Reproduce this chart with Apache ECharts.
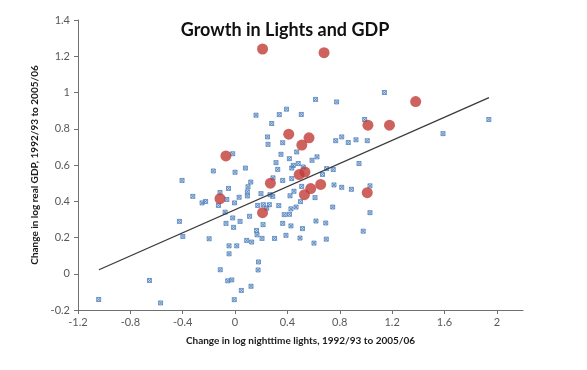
<!DOCTYPE html>
<html>
<head>
<meta charset="utf-8">
<script src="https://cdn.jsdelivr.net/npm/echarts@6/dist/echarts.min.js"></script>
<style>html,body{margin:0;padding:0;background:#fff}#c{width:587px;height:370px}</style>
</head>
<body>
<div id="c"></div>
<script>
// ---- data ----
const titleText = 'Growth in Lights and GDP';
const xAxisName = 'Change in log nighttime lights, 1992/93 to 2005/06';
const yAxisName = 'Change in log real GDP, 1992/93 to 2005/06';
const xTicks = [-1.2, -0.8, -0.4, 0, 0.4, 0.8, 1.2, 1.6, 2];
const yTicks = [-0.2, 0, 0.2, 0.4, 0.6, 0.8, 1, 1.2, 1.4];

// other countries (blue x markers)
const blueX = [0.16,0.338,0.393,0.28,0.248,0.252,0.364,0.351,0.313,0.415,0.471,-0.018,0.615,0.776,0.506,0.99,1.141,1.939,1.589,0.769,0.815,0.865,0.924,1.01,0.588,0.626,0.947,0.445,0.483,0.521,0.079,0.0,-0.166,-0.405,0.70,0.75,0.668,0.326,0.433,0.364,0.433,0.756,0.815,0.889,1.031,0.509,0.12,0.099,0.094,0.094,-0.05,-0.115,0.29,0.198,0.267,0.288,0.42,0.45,0.611,-0.323,-0.252,-0.225,0.031,-0.063,0.50,-0.004,-0.127,0.173,0.216,0.262,0.242,0.334,0.466,0.427,0.746,1.031,0.376,0.416,-0.076,-0.018,0.111,0.038,-0.069,-0.011,-0.425,0.214,0.364,0.427,0.515,0.618,0.693,0.979,0.164,0.168,-0.399,-0.198,0.206,0.302,0.389,0.496,0.697,0.603,0.089,0.127,-0.046,0.013,-0.046,0.179,0.176,-0.113,-0.654,-0.056,-0.025,0.048,0.122,-0.006,-0.569,-1.042];
const blueY = [0.875,0.878,0.908,0.829,0.755,0.714,0.723,0.659,0.613,0.635,0.672,0.662,0.962,0.948,0.879,0.851,1.0,0.851,0.773,0.734,0.755,0.724,0.739,0.734,0.626,0.645,0.608,0.598,0.608,0.589,0.583,0.56,0.567,0.515,0.58,0.575,0.548,0.576,0.583,0.515,0.525,0.49,0.477,0.466,0.485,0.482,0.506,0.48,0.452,0.429,0.471,0.448,0.529,0.442,0.436,0.427,0.43,0.455,0.42,0.427,0.391,0.399,0.422,0.41,0.398,0.391,0.377,0.377,0.381,0.381,0.362,0.376,0.368,0.358,0.368,0.337,0.326,0.328,0.34,0.308,0.317,0.289,0.278,0.256,0.289,0.271,0.278,0.264,0.249,0.291,0.28,0.235,0.239,0.215,0.206,0.193,0.195,0.195,0.212,0.197,0.191,0.169,0.184,0.175,0.154,0.154,0.11,0.065,0.021,0.022,-0.037,-0.039,-0.034,-0.092,-0.069,-0.143,-0.161,-0.142];

// highlighted countries (red circles)
const redX = [0.21,0.68,1.38,1.015,1.18,0.41,0.565,0.51,-0.07,0.27,0.49,0.534,0.654,0.578,0.53,1.01,-0.115,0.21];
const redY = [1.24,1.22,0.95,0.82,0.82,0.77,0.75,0.71,0.65,0.50,0.547,0.561,0.493,0.47,0.436,0.447,0.414,0.337];

// fitted line end points
const trendX = [-1.04, 1.94];
const trendY = [0.022, 0.972];

// ---- chart ----
const zip = (a, b) => a.map((v, i) => [v, b[i]]);
const chart = echarts.init(document.getElementById('c'), null, {renderer: 'canvas'});
const labelStyle = {color: '#595959', fontSize: 11, fontFamily: 'Lato, "Open Sans", sans-serif'};
chart.setOption({
  animation: false,
  backgroundColor: '#fff',
  title: {
    text: titleText, left: 280, top: 16, textAlign: 'center',
    textStyle: {fontSize: 18, fontWeight: 'bold', color: '#111', fontFamily: 'Lato, "Open Sans", sans-serif'}
  },
  grid: {left: 78, right: 64, top: 20, bottom: 60},
  xAxis: {
    type: 'value', min: -1.2, max: 2.2, interval: 0.4,
    name: xAxisName, nameLocation: 'middle', nameGap: 26,
    nameTextStyle: {fontSize: 10, fontWeight: 'bold', color: '#1a1a1a', fontFamily: 'Lato, "Open Sans", sans-serif'},
    axisLine: {show: true, onZero: false, lineStyle: {color: '#707070', width: 1}},
    axisTick: {show: true, inside: false, length: 4, lineStyle: {color: '#707070'}, customValues: xTicks},
    axisLabel: Object.assign({margin: 7, customValues: xTicks, formatter: v => String(v)}, labelStyle),
    splitLine: {show: false}
  },
  yAxis: {
    type: 'value', min: -0.2, max: 1.4, interval: 0.2,
    name: yAxisName, nameLocation: 'middle', nameGap: 33,
    nameTextStyle: {fontSize: 10, fontWeight: 'bold', color: '#1a1a1a', fontFamily: 'Lato, "Open Sans", sans-serif'},
    axisLine: {show: true, onZero: false, lineStyle: {color: '#707070', width: 1}},
    axisTick: {show: true, inside: false, length: 4, lineStyle: {color: '#707070'}, customValues: yTicks},
    axisLabel: Object.assign({margin: 8, customValues: yTicks, formatter: v => String(Math.round(v * 10) / 10)}, labelStyle),
    splitLine: {show: false}
  },
  series: [
    {
      type: 'scatter', name: 'Other', data: zip(blueX, blueY),
      symbol: 'path://M0,0L10,10M10,0L0,10M0,0L10,0L10,10L0,10Z', symbolSize: 4,
      itemStyle: {color: 'rgba(79,129,189,0.35)', borderColor: '#4F81BD', borderWidth: 1},
      z: 2
    },
    {
      type: 'line', name: 'Fit', data: zip(trendX, trendY),
      symbol: 'none', lineStyle: {color: '#3a3a3a', width: 1.3}, z: 3
    },
    {
      type: 'scatter', name: 'Highlighted', data: zip(redX, redY),
      symbol: 'circle', symbolSize: 11,
      itemStyle: {color: '#C03B37'}, z: 4
    }
  ]
});
</script>
</body>
</html>
